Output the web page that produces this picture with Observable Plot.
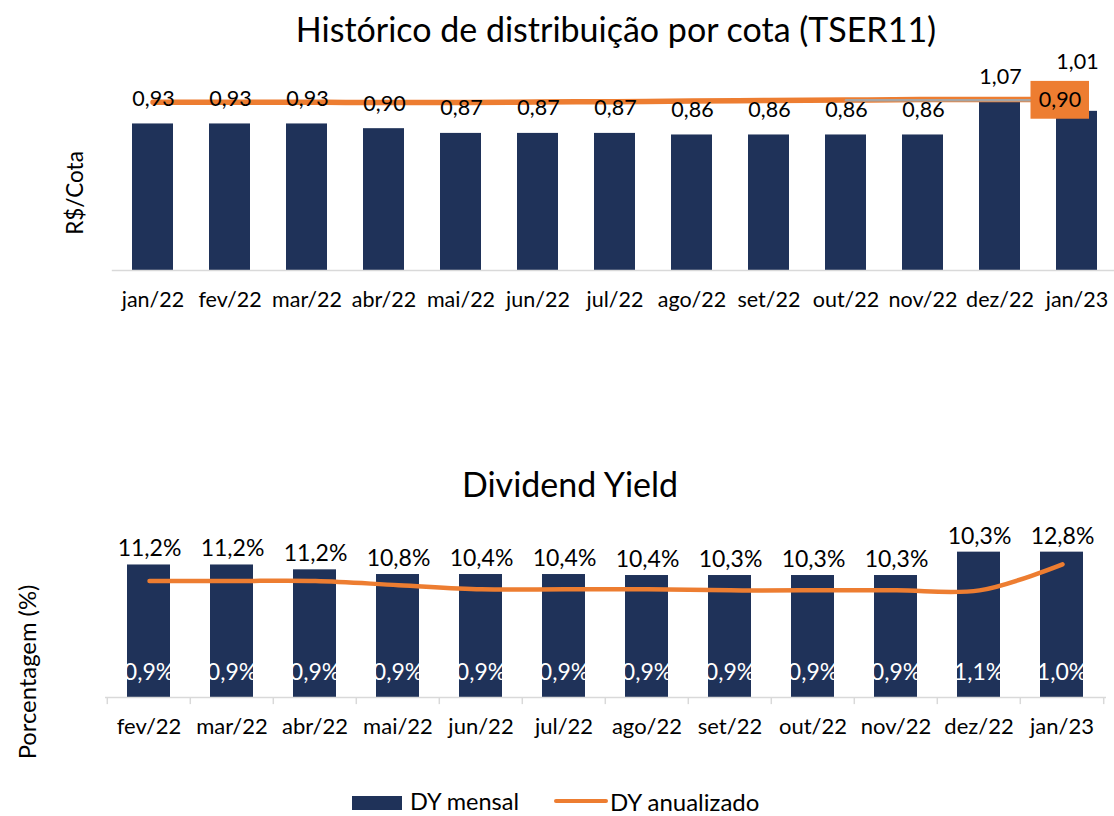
<!DOCTYPE html>
<html lang="pt-BR">
<head>
<meta charset="utf-8">
<script src="https://cdn.jsdelivr.net/npm/d3@7"></script>
<script src="https://cdn.jsdelivr.net/npm/@observablehq/plot@0.6"></script>
<style>
  html, body { margin: 0; padding: 0; background: #fff; overflow: hidden; }
  #page { position: relative; width: 1114px; height: 816px; overflow: hidden; font-family: Lato, "Open Sans", sans-serif; color: #000; background: #fff; }
  .t { position: absolute; white-space: nowrap; transform: translate(-50%, -50%); line-height: 1; }
  .yl { position: absolute; white-space: nowrap; transform: translate(-50%, -50%) rotate(-90deg); line-height: 1; }
  #page svg { position: absolute; max-width: none; }
  .leg { position: absolute; white-space: nowrap; line-height: 1; transform: translateY(-50%); }
</style>
</head>
<body>
<div id="page"></div>
<script>
// ---------- Dados: distribuição por cota ----------
const mesesDist = ["jan/22","fev/22","mar/22","abr/22","mai/22","jun/22","jul/22","ago/22","set/22","out/22","nov/22","dez/22","jan/23"];
const distPorCota = [0.93,0.93,0.93,0.90,0.87,0.87,0.87,0.86,0.86,0.86,0.86,1.07,1.01];
const mediaLinha = [0.890,0.890,0.890,0.888,0.888,0.891,0.893,0.896,0.899,0.901,0.904,0.904,0.906];
const mediaAnual = 0.90;

// ---------- Dados: dividend yield ----------
const mesesDY = ["fev/22","mar/22","abr/22","mai/22","jun/22","jul/22","ago/22","set/22","out/22","nov/22","dez/22","jan/23"];
const dyMensal = [0.93,0.93,0.896,0.863,0.863,0.863,0.856,0.856,0.856,0.856,1.02,1.02];
const dyMensalRotulos = ["0,9%","0,9%","0,9%","0,9%","0,9%","0,9%","0,9%","0,9%","0,9%","0,9%","1,1%","1,0%"];
const dyAnualizado = [11.2,11.2,11.2,10.8,10.4,10.4,10.4,10.3,10.3,10.3,10.3,12.8];

const NAVY = "#1f3259";
const ORANGE = "#ed7d31";
const GRID = "#d9d9d9";
const FONT = "Lato, 'Open Sans', sans-serif";

const distData = mesesDist.map((m, i) => ({mes: m, valor: distPorCota[i], media: mediaLinha[i]}));
const dyData = mesesDY.map((m, i) => ({mes: m, mensal: dyMensal[i], rotulo: dyMensalRotulos[i], anual: dyAnualizado[i]}));

const br = s => s.replace(".", ",");
const f2 = d3.format(".2f");
const f1 = d3.format(".1f");

const page = document.getElementById("page");
function place(el, left, top) {
  el.style.left = left + "px";
  el.style.top = top + "px";
  el.style.background = "transparent";
  page.appendChild(el);
}
function html(cls, text, x, y, size, extra) {
  const d = document.createElement("div");
  d.className = cls;
  d.textContent = text;
  d.style.left = x + "px";
  d.style.top = y + "px";
  d.style.fontSize = size + "px";
  if (extra) Object.assign(d.style, extra);
  page.appendChild(d);
  return d;
}

// ---------- Gráfico 1 ----------
const G1 = {top: 60, width: 1122, height: 260, marginLeft: 111.8, marginRight: 4, marginTop: 20.9, marginBottom: 50};
const base1 = {
  width: G1.width, height: G1.height,
  marginLeft: G1.marginLeft, marginRight: G1.marginRight, marginTop: G1.marginTop, marginBottom: G1.marginBottom,
  x: {domain: mesesDist, paddingInner: 0.47, paddingOuter: 0.235, axis: null},
  style: {fontFamily: FONT, background: "transparent", overflow: "visible", maxWidth: "none"}
};

const p1a = Plot.plot({
  ...base1,
  y: {domain: [0, 1.2], axis: null},
  marks: [
    Plot.barY(distData, {x: "mes", y: "valor", fill: NAVY}),
    Plot.ruleY([0], {stroke: GRID, strokeWidth: 1.5}),
    Plot.text(mesesDist, {x: d => d, y: () => 0, dy: 30, fontSize: 21.5, fill: "#000", lineAnchor: "middle"})
  ]
});
place(p1a, 0, G1.top);

const p1b = Plot.plot({
  ...base1,
  y: {domain: [0, 1.0], axis: null},
  marks: [
    Plot.line(distData, {x: "mes", y: "media", stroke: ORANGE, strokeWidth: 5.5, curve: "catmull-rom"}),
    Plot.line([{mes: "out/22", v: mediaAnual}, {mes: "jan/23", v: mediaAnual}], {x: "mes", y: "v", stroke: "#a5a5a5", strokeWidth: 2.5}),
    Plot.barY([mediaAnual], {x: () => "jan/23", y1: d => d - 0.1, y2: d => d + 0.1, fill: ORANGE, insetLeft: -25.5, insetRight: 8}),
    Plot.text([mediaAnual], {x: () => "jan/23", y: d => d, text: d => br(f2(d)), dx: -17, fontSize: 21.5, fill: "#000", lineAnchor: "middle"})
  ]
});
place(p1b, 0, G1.top);

const p1c = Plot.plot({
  ...base1,
  y: {domain: [0, 1.2], axis: null},
  marks: [
    Plot.text(distData.slice(0, -1), {x: "mes", y: "valor", text: d => br(f2(d.valor)), dy: -25, fontSize: 21.5, fill: "#000", lineAnchor: "middle"}),
    Plot.text(distData.slice(-1), {x: "mes", y: "valor", text: d => br(f2(d.valor)), dy: -49, fontSize: 21.5, fill: "#000", lineAnchor: "middle"})
  ]
});
place(p1c, 0, G1.top);

// ---------- Gráfico 2 ----------
const G2 = {top: 500, width: 1114, height: 260, marginLeft: 105, marginRight: 8, marginTop: 26, marginBottom: 63};
const base2 = {
  width: G2.width, height: G2.height,
  marginLeft: G2.marginLeft, marginRight: G2.marginRight, marginTop: G2.marginTop, marginBottom: G2.marginBottom,
  x: {domain: mesesDY, paddingInner: 0.48, paddingOuter: 0.24, axis: null},
  style: {fontFamily: FONT, background: "transparent", overflow: "visible", maxWidth: "none"}
};
const half2 = (G2.width - G2.marginLeft - G2.marginRight) / mesesDY.length / 2;

const p2a = Plot.plot({
  ...base2,
  y: {domain: [0, 1.2], axis: null},
  marks: [
    Plot.barY(dyData, {x: "mes", y: "mensal", fill: NAVY}),
    Plot.ruleY([0], {stroke: GRID, strokeWidth: 1.5}),
    Plot.ruleX(mesesDY, {x: d => d, y1: () => 0, y2: () => -0.05, dx: -half2, stroke: GRID, strokeWidth: 1.5}),
    Plot.ruleX(mesesDY.slice(-1), {x: d => d, y1: () => 0, y2: () => -0.05, dx: half2, stroke: GRID, strokeWidth: 1.5}),
    Plot.text(mesesDY, {x: d => d, y: () => 0, dy: 29, fontSize: 22, fill: "#000", lineAnchor: "middle"}),
    Plot.text(dyData, {x: "mes", y: () => 0, dy: -25, text: "rotulo", fontSize: 23, fill: "#fff", lineAnchor: "middle"})
  ]
});
place(p2a, 0, G2.top);

const p2b = Plot.plot({
  ...base2,
  y: {domain: [0, 16.44], axis: null},
  marks: [
    Plot.line(dyData, {x: "mes", y: "anual", stroke: ORANGE, strokeWidth: 4.5, curve: "catmull-rom", strokeLinecap: "round"})
  ]
});
place(p2b, 0, G2.top);

const p2c = Plot.plot({
  ...base2,
  y: {domain: [0, 1.2], axis: null},
  marks: [
    Plot.text(dyData, {x: "mes", y: "mensal", text: d => br(f1(d.anual)) + "%", dy: -16, fontSize: 23, fill: "#000", lineAnchor: "middle"})
  ]
});
place(p2c, 0, G2.top);

// ---------- Títulos, rótulos de eixo, legenda ----------
html("t", "Histórico de distribuição por cota (TSER11)", 616, 29, 34);
html("t", "Dividend Yield", 570, 484, 34);
html("yl", "R$/Cota", 75, 193, 22.5);
html("yl", "Porcentagem (%)", 28, 672, 23.8);

const sw1 = document.createElement("div");
Object.assign(sw1.style, {position: "absolute", left: "352px", top: "796px", width: "50px", height: "14px", background: NAVY});
page.appendChild(sw1);
html("leg", "DY mensal", 410, 802, 23.5);
const sw2 = document.createElement("div");
Object.assign(sw2.style, {position: "absolute", left: "554px", top: "798.5px", width: "54px", height: "4px", background: ORANGE, borderRadius: "2px"});
page.appendChild(sw2);
html("leg", "DY anualizado", 610, 802, 24);
</script>
</body>
</html>
